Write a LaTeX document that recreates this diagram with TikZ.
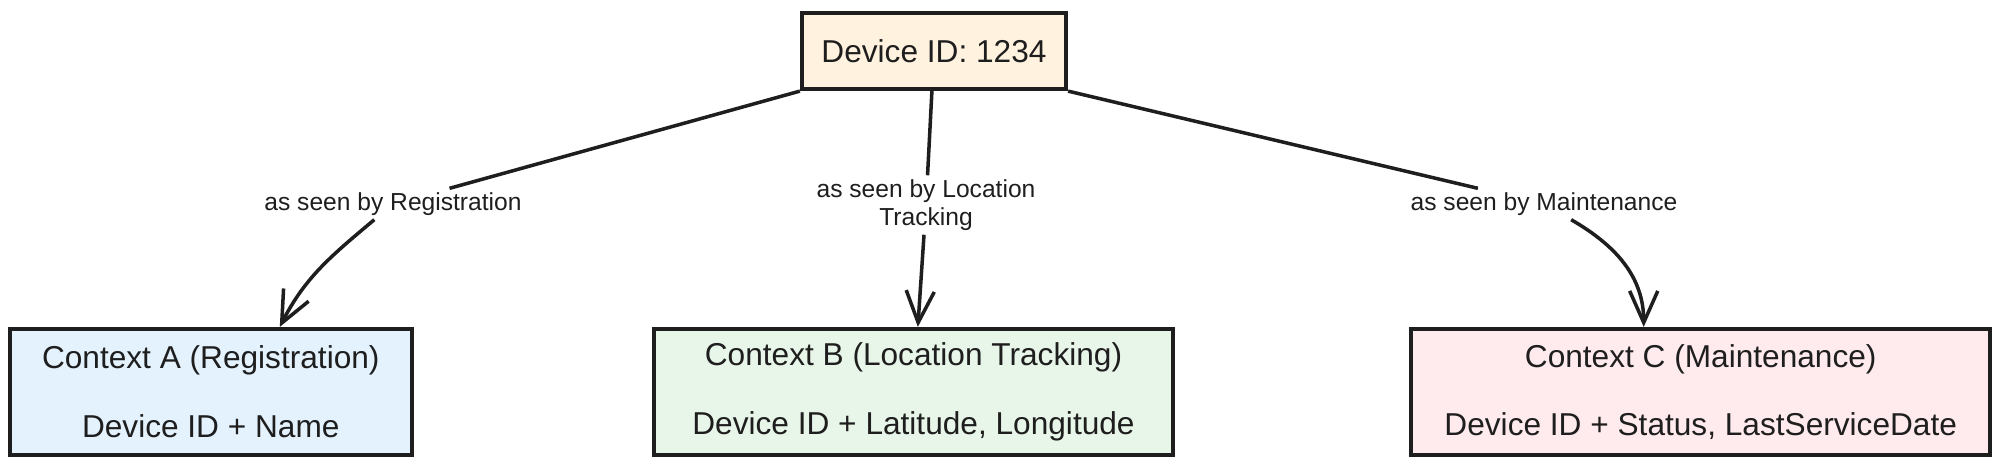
\documentclass[tikz,border=0pt]{standalone}
\usepackage{fontspec}
\setmainfont{Liberation Sans}
\usepackage{xcolor}
\usepackage{tikz}
\usetikzlibrary{arrows.meta,positioning}
\definecolor{inkc}{HTML}{1E1E1E}
\definecolor{devfill}{HTML}{FFF3E0}
\definecolor{regfill}{HTML}{E3F2FD}
\definecolor{locfill}{HTML}{E8F5E9}
\definecolor{mntfill}{HTML}{FFEBEE}

\begin{document}
\begin{tikzpicture}[font=\fontsize{9}{11}\selectfont, color=inkc, box/.style={draw=inkc, line width=1.2pt, align=center, minimum height=1.26cm}, lbl/.style={font=\fontsize{7}{8}\selectfont, align=center, inner sep=1pt}, arr/.style={-{Straight Barb[length=9pt,width=8pt]}, line width=1pt}]
\useasboundingbox (0,0) rectangle (20,4.72);
\node[box, fill=devfill, minimum width=2.64cm, minimum height=0.76cm] (dev) at (9.34,4.21) {Device ID: 1234};
\node[box, fill=locfill, minimum width=5.19cm] (ctxB) at (9.135,0.80) {Context B (Location Tracking)\\[0.3cm]Device ID + Latitude, Longitude};
\node[box, fill=regfill, minimum width=4.02cm, left=2.38cm of ctxB] (ctxA) {Context A (Registration)\\[0.3cm]Device ID + Name};
\node[box, fill=mntfill, minimum width=5.79cm, right=2.34cm of ctxB] (ctxC) {Context C (Maintenance)\\[0.3cm]Device ID + Status, LastServiceDate};
\node[lbl] (lblA) at (3.93,2.68) {as seen by Registration};
\node[lbl] (lblB) at (9.26,2.67) {as seen by Location\\Tracking};
\node[lbl] (lblC) at (15.44,2.68) {as seen by Maintenance};
\draw[line width=1pt] (dev.south west) -- (lblA);
\draw[arr] (lblA) to[out=220, in=63] ([xshift=0.69cm]ctxA.north);
\draw[line width=1pt] (dev) -- (lblB);
\draw[arr] (lblB) -- (ctxB);
\draw[line width=1pt] (dev.south east) -- (lblC);
\draw[arr] (lblC) to[out=-30, in=90] ([xshift=-0.57cm]ctxC.north);
\end{tikzpicture}
\end{document}
